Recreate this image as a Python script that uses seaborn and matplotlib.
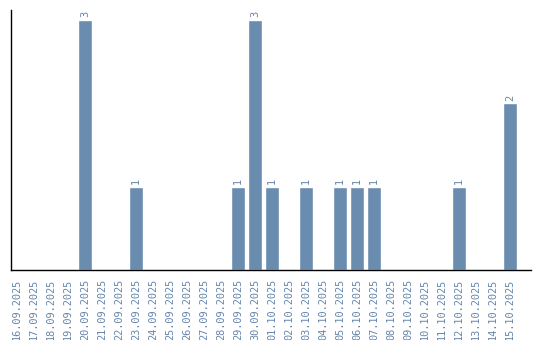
import matplotlib
matplotlib.use("Agg")
import matplotlib.pyplot as plt
import seaborn as sns
import pandas as pd

dates = ["16.09.2025", "17.09.2025", "18.09.2025", "19.09.2025", "20.09.2025",
         "21.09.2025", "22.09.2025", "23.09.2025", "24.09.2025", "25.09.2025",
         "26.09.2025", "27.09.2025", "28.09.2025", "29.09.2025", "30.09.2025",
         "01.10.2025", "02.10.2025", "03.10.2025", "04.10.2025", "05.10.2025",
         "06.10.2025", "07.10.2025", "08.10.2025", "09.10.2025", "10.10.2025",
         "11.10.2025", "12.10.2025", "13.10.2025", "14.10.2025", "15.10.2025"]
counts = [0, 0, 0, 0, 3, 0, 0, 1, 0, 0, 0, 0, 0, 1, 3,
          1, 0, 1, 0, 1, 1, 1, 0, 0, 0, 0, 1, 0, 0, 2]

df = pd.DataFrame({"date": dates, "count": counts})

sns.set_style("white")
color = "#6a8caf"
text_color = "#6585ab"

fig = plt.figure(figsize=(5.4, 3.4), dpi=100)
ax = fig.add_axes([10.5 / 540, 70 / 340, 520.5 / 540, 260 / 340])
sns.barplot(data=df, x="date", y="count", color=color, saturation=1,
            width=0.84, ax=ax)

labels = [str(c) if c > 0 else "" for c in counts]
ax.bar_label(ax.containers[0], labels=labels, rotation=90, padding=2,
             fontsize=7.4, color=text_color, family="DejaVu Sans Mono")

ax.set_xlim(-0.38, 30.24)
ax.set_ylim(0, 3.12)
ax.set_xlabel("")
ax.set_ylabel("")
ax.set_yticks([])
ax.tick_params(axis="x", length=0, pad=6)
for lab in ax.get_xticklabels():
    lab.set_rotation(90)
    lab.set_fontsize(7.4)
    lab.set_color(text_color)
    lab.set_family("DejaVu Sans Mono")

for s in ["top", "right"]:
    ax.spines[s].set_visible(False)
for s in ["left", "bottom"]:
    ax.spines[s].set_color("black")
    ax.spines[s].set_linewidth(1.0)

fig.savefig("out.png", dpi=100)
